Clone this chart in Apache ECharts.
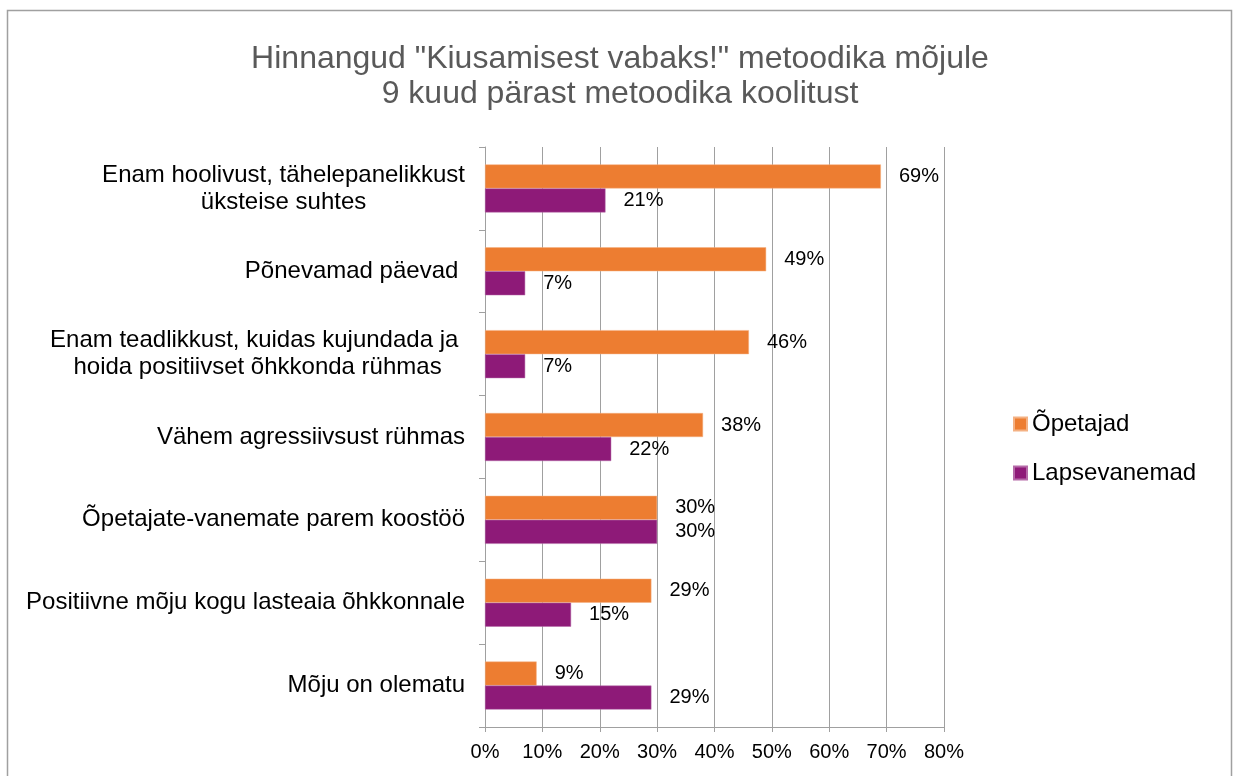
<!DOCTYPE html>
<html>
<head>
<meta charset="utf-8">
<script src="https://cdn.jsdelivr.net/npm/echarts@6/dist/echarts.min.js"></script>
<style>
html, body { margin: 0; padding: 0; background: #fff; }
#main { width: 1235px; height: 776px; }
</style>
</head>
<body>
<div id="main"></div>
<script>
var categories = [
    'Enam hoolivust, tähelepanelikkust\nüksteise suhtes',
    'Põnevamad päevad ',
    'Enam teadlikkust, kuidas kujundada ja \nhoida positiivset õhkkonda rühmas',
    'Vähem agressiivsust rühmas',
    'Õpetajate-vanemate parem koostöö',
    'Positiivne mõju kogu lasteaia õhkkonnale',
    'Mõju on olematu'
];
var opetajad = [69, 49, 46, 38, 30, 29, 9];
var lapsevanemad = [21, 7, 7, 22, 30, 15, 29];

var myChart = echarts.init(document.getElementById('main'));
var font = 'Liberation Sans, Arial, sans-serif';

var labelStyle = {
    show: true,
    position: 'right',
    distance: 18,
    formatter: '{c}%',
    color: '#000',
    fontSize: 20,
    fontFamily: font
};

var option = {
    backgroundColor: '#fff',
    animation: false,
    title: {
        text: 'Hinnangud "Kiusamisest vabaks!" metoodika mõjule\n9 kuud pärast metoodika koolitust',
        left: 615,
        top: 37,
        textAlign: 'center',
        textStyle: {
            color: '#595959',
            fontSize: 32,
            fontWeight: 'normal',
            fontFamily: font,
            lineHeight: 35
        }
    },
    legend: {
        orient: 'vertical',
        left: 1008,
        top: 407,
        itemWidth: 13,
        itemHeight: 13,
        itemGap: 25,
        icon: 'rect',
        textStyle: { color: '#000', fontSize: 24, fontFamily: font },
        data: ['Õpetajad', 'Lapsevanemad']
    },
    grid: { left: 485, right: 291, top: 147, bottom: 49, containLabel: false },
    xAxis: {
        type: 'value',
        min: 0,
        max: 80,
        interval: 10,
        axisLine: { show: true, lineStyle: { color: '#a0a0a0' } },
        axisTick: { show: true, length: 5, lineStyle: { color: '#a0a0a0' } },
        splitLine: { show: true, lineStyle: { color: '#a0a0a0' } },
        axisLabel: {
            formatter: '{value}%',
            color: '#000',
            fontSize: 20,
            fontFamily: font,
            margin: 15
        }
    },
    yAxis: {
        type: 'category',
        inverse: true,
        data: categories,
        axisLine: { show: true, lineStyle: { color: '#a0a0a0' } },
        axisTick: { show: true, length: 6, lineStyle: { color: '#a0a0a0' } },
        axisLabel: {
            color: '#000',
            fontSize: 24,
            fontFamily: font,
            margin: 20,
            lineHeight: 27,
            formatter: function (v) {
                return v.split('\n').map(function (s) { return '{c|' + s + '}'; }).join('\n');
            },
            rich: {
                c: { align: 'center', fontSize: 24, fontFamily: font, color: '#000', lineHeight: 27 }
            }
        }
    },
    series: [
        {
            name: 'Õpetajad',
            type: 'bar',
            data: opetajad,
            barWidth: 24,
            barGap: '0%',
            itemStyle: { color: '#ED7D31', borderColor: '#f4b183', borderWidth: 0.5 },
            label: labelStyle
        },
        {
            name: 'Lapsevanemad',
            type: 'bar',
            data: lapsevanemad,
            barWidth: 24,
            barGap: '0%',
            itemStyle: { color: '#8E1A78', borderColor: '#b56aa8', borderWidth: 0.5 },
            label: labelStyle
        }
    ],
    graphic: [
        {
            type: 'rect',
            shape: { x: 7.5, y: 10.5, width: 1224, height: 800 },
            style: { fill: 'none', stroke: '#a0a0a0', lineWidth: 1.5 },
            silent: true
        }
    ]
};
myChart.setOption(option);
</script>
</body>
</html>
